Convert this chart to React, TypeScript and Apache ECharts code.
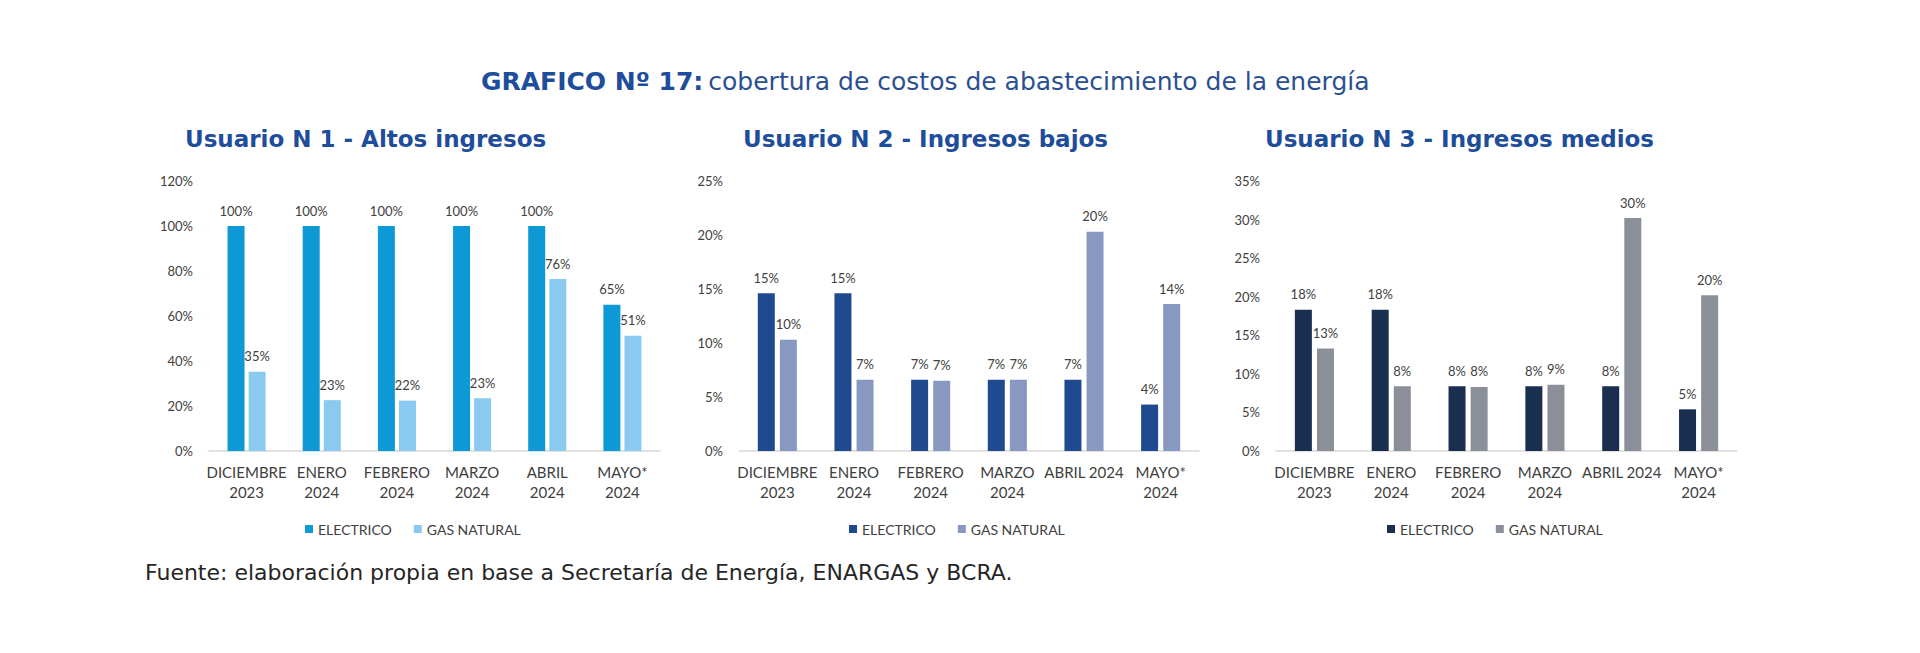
import React, { useEffect, useRef } from "react";
import * as echarts from "echarts";

const categories1 = ["DICIEMBRE\n2023", "ENERO\n2024", "FEBRERO\n2024", "MARZO\n2024", "ABRIL\n2024", "MAYO*\n2024"];
const categories23 = ["DICIEMBRE\n2023", "ENERO\n2024", "FEBRERO\n2024", "MARZO\n2024", "ABRIL 2024", "MAYO*\n2024"];

const u1Electrico = [100, 100, 100, 100, 100, 65];
const u1Gas = [35.2, 22.6, 22.4, 23.4, 76.4, 51.2];

const u2Electrico = [14.6, 14.6, 6.6, 6.6, 6.6, 4.3];
const u2Gas = [10.3, 6.6, 6.5, 6.6, 20.3, 13.6];

const u3Electrico = [18.3, 18.3, 8.4, 8.4, 8.4, 5.4];
const u3Gas = [13.3, 8.4, 8.3, 8.6, 30.2, 20.2];

const yMax = [120, 25, 35];
const yInterval = [20, 5, 5];

const mainTitleBold = "GRAFICO Nº 17:";
const mainTitleRest = "cobertura de costos de abastecimiento de la energía";
const subTitles = ["Usuario N 1 - Altos ingresos", "Usuario N 2 - Ingresos bajos", "Usuario N 3 - Ingresos medios"];
const footer = "Fuente: elaboración propia en base a Secretaría de Energía, ENARGAS y BCRA.";
const legendNames = ["ELECTRICO", "GAS NATURAL"];

const colors = [
  ["#0D99D6", "#8ACAF0"],
  ["#1F4A90", "#8898C0"],
  ["#1A2E4F", "#8A8F99"],
];

const TITLE_BLUE = "#1E4D9B";
const TEXT = "#404040";
const FONT = "Lato";
const HEAD_FONT = "'DejaVu Sans'";

export default function App() {
  const ref = useRef<HTMLDivElement>(null);
  useEffect(() => {
    if (!ref.current) return;
    const chart = echarts.init(ref.current, undefined, { renderer: "svg" });

    const grids = [
      { left: 209, top: 181, width: 451, height: 270 },
      { left: 739, top: 181, width: 460, height: 270 },
      { left: 1276, top: 181, width: 461, height: 270 },
    ];
    const cats = [categories1, categories23, categories23];
    const data = [
      [u1Electrico, u1Gas],
      [u2Electrico, u2Gas],
      [u3Electrico, u3Gas],
    ];
    const gaps = ["24%", "30%", "30%"];
    const legendLeft = [305, 849, 1387];
    const subLeft = [185, 743, 1265];

    const series: any[] = [];
    data.forEach((pair, gi) => {
      pair.forEach((vals, si) => {
        series.push({
          type: "bar",
          name: legendNames[si] + "|" + gi,
          xAxisIndex: gi,
          yAxisIndex: gi,
          data: vals,
          barWidth: 17,
          barGap: gaps[gi],
          itemStyle: { color: colors[gi][si] },
          label: {
            show: true,
            position: "top",
            distance: 9,
            color: TEXT,
            fontFamily: FONT,
            fontSize: 13,
            formatter: (p: any) => Math.round(p.value) + "%",
          },
        });
      });
    });

    const option: any = {
      animation: false,
      backgroundColor: "#ffffff",
      title: [
        {
          text: "{b|" + mainTitleBold + "} {r|" + mainTitleRest + "}",
          left: 481,
          top: 69,
          padding: 0,
          textStyle: {
            rich: {
              b: { fontFamily: HEAD_FONT, fontWeight: "bold", fontSize: 25, color: TITLE_BLUE },
              r: { fontFamily: HEAD_FONT, fontWeight: "normal", fontSize: 25, color: "#2B5092" },
            },
          },
        },
        ...subTitles.map((t, i) => ({
          text: t,
          left: subLeft[i],
          top: 127,
          padding: 0,
          textStyle: { fontFamily: HEAD_FONT, fontWeight: "bold", fontSize: 23, color: TITLE_BLUE },
        })),
        {
          text: footer,
          left: 145,
          top: 561,
          padding: 0,
          textStyle: { fontFamily: HEAD_FONT, fontWeight: "normal", fontSize: 22, color: "#262626" },
        },
      ],
      legend: data.map((_, gi) => ({
        left: legendLeft[gi],
        top: 522,
        padding: 0,
        itemWidth: 8,
        itemHeight: 8,
        itemGap: 22,
        icon: "rect",
        data: legendNames.map((n) => n + "|" + gi),
        formatter: (name: string) => name.split("|")[0],
        textStyle: { color: TEXT, fontFamily: FONT, fontSize: 14 },
      })),
      grid: grids,
      xAxis: grids.map((_, gi) => ({
        type: "category",
        gridIndex: gi,
        data: cats[gi],
        axisLine: { show: true, lineStyle: { color: "#D9D9D9", width: 1.5 } },
        axisTick: { show: false },
        axisLabel: {
          interval: 0,
          margin: 11,
          color: TEXT,
          fontFamily: FONT,
          fontSize: 15,
          lineHeight: 20,
        },
      })),
      yAxis: grids.map((_, gi) => ({
        type: "value",
        gridIndex: gi,
        min: 0,
        max: yMax[gi],
        interval: yInterval[gi],
        splitLine: { show: false },
        axisLine: { show: false },
        axisTick: { show: false },
        axisLabel: {
          margin: 16,
          color: TEXT,
          fontFamily: FONT,
          fontSize: 13,
          formatter: "{value}%",
        },
      })),
      series,
    };

    chart.setOption(option);
    return () => chart.dispose();
  }, []);

  return (
    <div
      ref={ref}
      style={{ position: "fixed", left: 0, top: 0, width: 1920, height: 653, background: "#fff" }}
    />
  );
}
